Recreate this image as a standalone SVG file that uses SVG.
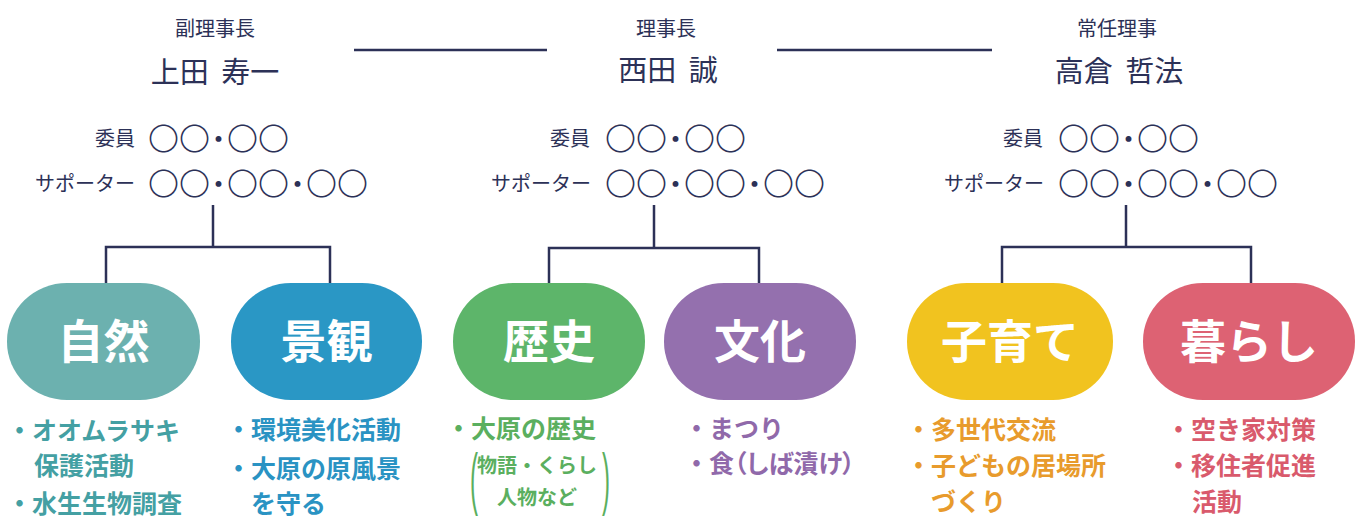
<svg xmlns="http://www.w3.org/2000/svg" width="1360" height="519" viewBox="0 0 1360 519">
<style>
.t{font-family:"Noto Sans CJK JP","Noto Sans CJK SC",sans-serif;fill:#2C3157}
.role{font-size:20px;text-anchor:middle}
.name{font-size:29px;text-anchor:middle;word-spacing:6px}
.lab{font-size:20px;text-anchor:end}
.mem{font-size:31px;font-weight:300}
.pl{font-family:"Noto Sans CJK JP","Noto Sans CJK SC",sans-serif;font-size:46px;font-weight:700;fill:#fff;text-anchor:middle}
.b{font-family:"Noto Sans CJK JP","Noto Sans CJK SC",sans-serif;font-size:25px;font-weight:700}
.bs{font-family:"Noto Sans CJK JP","Noto Sans CJK SC",sans-serif;font-size:20px;font-weight:700}
.par{font-family:"Liberation Sans",sans-serif;font-size:24px}
.conn{stroke:#2C3157;stroke-width:2.5;fill:none}
.c1{fill:#44A0A3}.c2{fill:#2A93C3}.c3{fill:#5BAF5F}.c4{fill:#9069AA}.c5{fill:#E89B2C}.c6{fill:#D95A6C}
</style>

<g id="connectors">
  <line class="conn" x1="354" y1="50" x2="547" y2="50"/>
  <line class="conn" x1="777" y1="50" x2="992" y2="50"/>
  <path class="conn" d="M213 205V247M106 283V247H330V283"/>
  <path class="conn" d="M654 205V248M549 283V248H759V283"/>
  <path class="conn" d="M1126 205V247M1002 283V247H1251V283"/>
</g>

<g id="leader-vice">
  <text class="t role" x="215" y="36">副理事長</text>
  <text class="t name" x="215" y="83">上田 寿一</text>
</g>
<g id="leader-chair">
  <text class="t role" x="666" y="36">理事長</text>
  <text class="t name" x="668" y="81">西田 誠</text>
</g>
<g id="leader-executive">
  <text class="t role" x="1117" y="36">常任理事</text>
  <text class="t name" x="1119" y="82">高倉 哲法</text>
</g>

<g id="members-left">
  <text class="t lab" x="135" y="146">委員</text>
  <text class="t mem" x="148" y="150">〇〇<tspan dx="-7">・</tspan><tspan dx="-7">〇〇</tspan></text>
  <text class="t lab" x="135" y="191">サポーター</text>
  <text class="t mem" x="148" y="195">〇〇<tspan dx="-7">・</tspan><tspan dx="-7">〇〇</tspan><tspan dx="-7">・</tspan><tspan dx="-7">〇〇</tspan></text>
</g>
<g id="members-center">
  <text class="t lab" x="590" y="146">委員</text>
  <text class="t mem" x="605" y="150">〇〇<tspan dx="-7">・</tspan><tspan dx="-7">〇〇</tspan></text>
  <text class="t lab" x="591" y="191">サポーター</text>
  <text class="t mem" x="605" y="195">〇〇<tspan dx="-7">・</tspan><tspan dx="-7">〇〇</tspan><tspan dx="-7">・</tspan><tspan dx="-7">〇〇</tspan></text>
</g>
<g id="members-right">
  <text class="t lab" x="1043" y="146">委員</text>
  <text class="t mem" x="1058" y="150">〇〇<tspan dx="-7">・</tspan><tspan dx="-7">〇〇</tspan></text>
  <text class="t lab" x="1044" y="191">サポーター</text>
  <text class="t mem" x="1058" y="195">〇〇<tspan dx="-7">・</tspan><tspan dx="-7">〇〇</tspan><tspan dx="-7">・</tspan><tspan dx="-7">〇〇</tspan></text>
</g>

<g id="pill-shizen">
  <rect x="7" y="283" width="193" height="117" rx="60" ry="58" fill="#6CB1AF"/>
  <text class="pl" x="103.5" y="358">自然</text>
</g>
<g id="pill-keikan">
  <rect x="231" y="283" width="191" height="117" rx="60" ry="58" fill="#2A97C5"/>
  <text class="pl" x="326.5" y="358">景観</text>
</g>
<g id="pill-rekishi">
  <rect x="453" y="283" width="192" height="117" rx="60" ry="58" fill="#5DB56A"/>
  <text class="pl" x="549" y="358">歴史</text>
</g>
<g id="pill-bunka">
  <rect x="664" y="283" width="192" height="117" rx="60" ry="58" fill="#9470AE"/>
  <text class="pl" x="760" y="358">文化</text>
</g>
<g id="pill-kosodate">
  <rect x="907" y="283" width="206" height="117" rx="60" ry="58" fill="#F1C31F"/>
  <text class="pl" x="1010" y="358">子育て</text>
</g>
<g id="pill-kurashi">
  <rect x="1143" y="283" width="212" height="117" rx="60" ry="58" fill="#DD6273"/>
  <text class="pl" x="1249" y="358">暮らし</text>
</g>

<g id="items-shizen">
  <text class="b c1" x="7" y="440">・オオムラサキ</text>
  <text class="b c1" x="34" y="475">保護活動</text>
  <text class="b c1" x="7" y="513">・水生生物調査</text>
</g>
<g id="items-keikan">
  <text class="b c2" x="226" y="439">・環境美化活動</text>
  <text class="b c2" x="226" y="478">・大原の原風景</text>
  <text class="b c2" x="251" y="513">を守る</text>
</g>
<g id="items-rekishi">
  <text class="b c3" x="446" y="438">・大原の歴史</text>
  <text class="par c3" transform="translate(470,502) scale(1,2.85)">(</text>
  <text class="bs c3" x="477" y="473">物語・くらし</text>
  <text class="bs c3" x="497" y="505">人物など</text>
  <text class="par c3" transform="translate(602,502) scale(1,2.85)">)</text>
</g>
<g id="items-bunka">
  <text class="b c4" x="684" y="438">・まつり</text>
  <text class="b c4" x="684" y="473">・<tspan style="font-feature-settings:'palt'">食（しば漬け）</tspan></text>
</g>
<g id="items-kosodate">
  <text class="b c5" x="906" y="439">・多世代交流</text>
  <text class="b c5" x="906" y="475">・子どもの居場所</text>
  <text class="b c5" x="931" y="511">づくり</text>
</g>
<g id="items-kurashi">
  <text class="b c6" x="1166" y="439">・空き家対策</text>
  <text class="b c6" x="1166" y="475">・移住者促進</text>
  <text class="b c6" x="1192" y="511">活動</text>
</g>
</svg>
